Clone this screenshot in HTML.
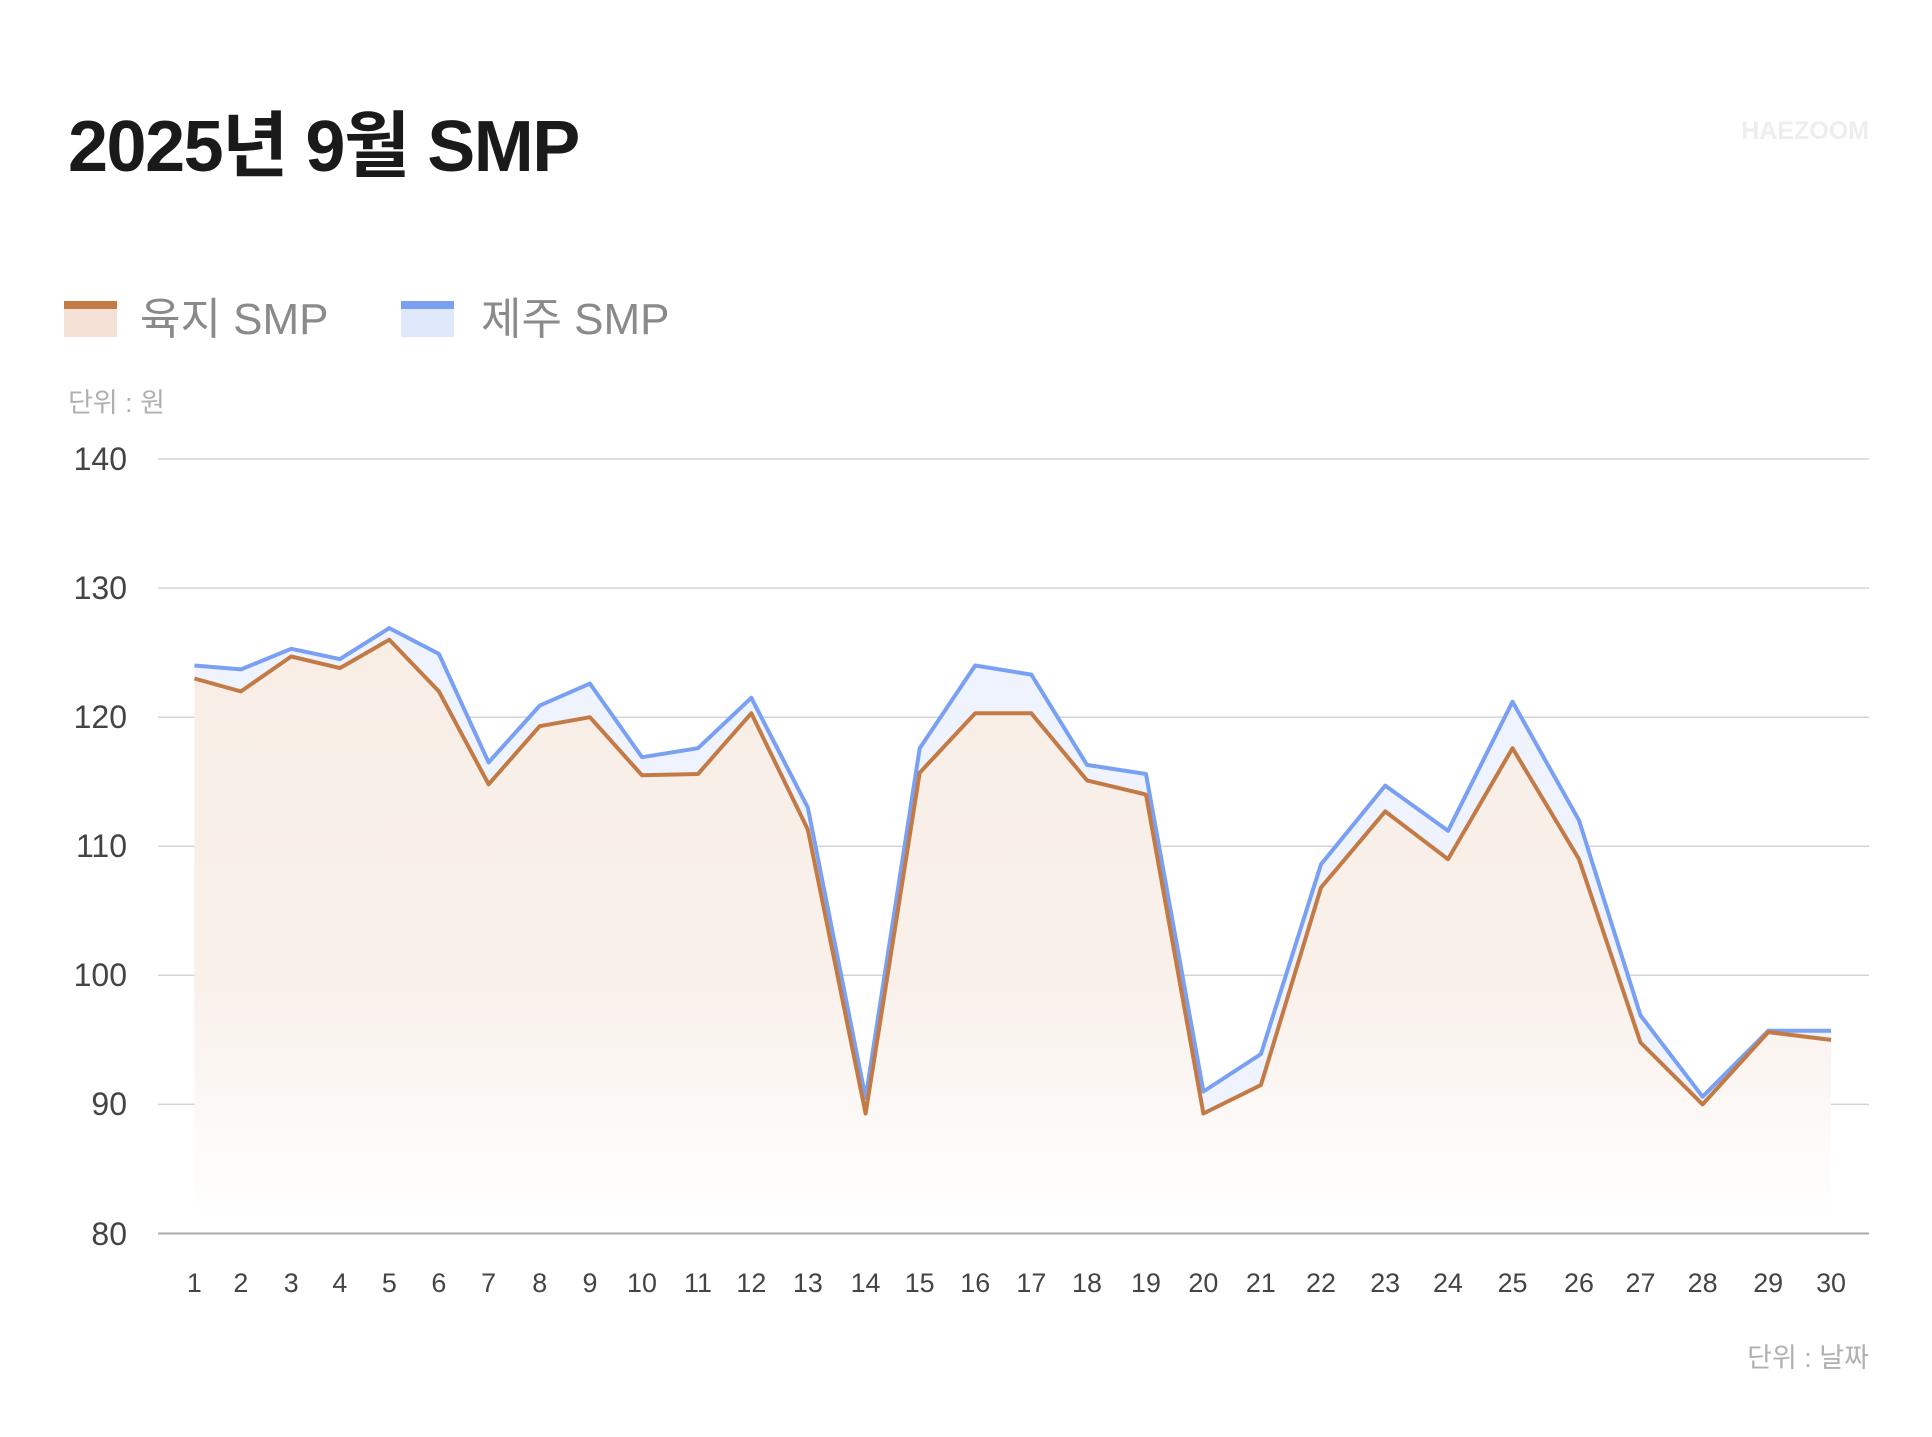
<!DOCTYPE html>
<html><head><meta charset="utf-8"><style>
html,body{margin:0;padding:0;background:#fff;}
body{width:1932px;height:1437px;overflow:hidden;position:relative;font-family:"Liberation Sans","Noto Sans CJK KR",sans-serif;}
svg{position:absolute;left:0;top:0;}
</style></head><body>
<svg id="c" width="1932" height="1437" viewBox="0 0 1932 1437" font-family="Liberation Sans, Noto Sans CJK KR, sans-serif">
<defs>
<linearGradient id="ogr" gradientUnits="userSpaceOnUse" x1="0" y1="620" x2="0" y2="1220">
<stop offset="0" stop-color="#f8eee6"/><stop offset="0.6" stop-color="#f9f0ea"/><stop offset="1" stop-color="#ffffff"/>
</linearGradient>
</defs>
<text x="68" y="171" font-size="72" font-weight="bold" fill="#1a1a1a" letter-spacing="-1.5">2025년 9월 SMP</text>
<text x="1869" y="139" font-size="25" font-weight="bold" fill="#eeeeee" text-anchor="end">HAEZOOM</text>
<rect x="64" y="301" width="53" height="36" fill="#f3e2d5"/><rect x="64" y="301" width="53" height="8" fill="#c47a45"/>
<text x="140" y="334" font-size="44" fill="#8a8a8a">육지 SMP</text>
<rect x="401" y="301" width="53" height="36" fill="#e0e9fb"/><rect x="401" y="301" width="53" height="8" fill="#7aa0f4"/>
<text x="481" y="334" font-size="44" fill="#8a8a8a">제주 SMP</text>
<text x="68" y="412" font-size="27" fill="#b0b0b0">단위 : 원</text>
<text x="1869" y="1367" font-size="27" fill="#b0b0b0" text-anchor="end">단위 : 날짜</text>
<g font-size="32" fill="#444" text-anchor="end">
<text x="127" y="470">140</text><text x="127" y="599">130</text><text x="127" y="728">120</text>
<text x="127" y="857">110</text><text x="127" y="986">100</text><text x="127" y="1115">90</text><text x="127" y="1245">80</text>
</g>
<g stroke="#d4d4d4" stroke-width="1.5">
<line x1="158" x2="1869" y1="459" y2="459"/><line x1="158" x2="1869" y1="588.1" y2="588.1"/>
<line x1="158" x2="1869" y1="717.2" y2="717.2"/><line x1="158" x2="1869" y1="846.3" y2="846.3"/>
<line x1="158" x2="1869" y1="975.3" y2="975.3"/><line x1="158" x2="1869" y1="1104.4" y2="1104.4"/>
</g>
<g id="fills"></g>
<line x1="158" x2="1869" y1="1233.5" y2="1233.5" stroke="#aaa" stroke-width="2"/>
<g font-size="27" fill="#444" text-anchor="middle" transform="matrix(0.99504 0 0 1 0.964 0)">
<text x="194.4" y="1292">1</text><text x="241.1" y="1292">2</text><text x="291.7" y="1292">3</text><text x="340.6" y="1292">4</text><text x="390.3" y="1292">5</text><text x="440.1" y="1292">6</text><text x="490.1" y="1292">7</text><text x="541.4" y="1292">8</text><text x="591.9" y="1292">9</text><text x="644.2" y="1292">10</text><text x="700.5" y="1292">11</text><text x="754.1" y="1292">12</text><text x="810.9" y="1292">13</text><text x="868.9" y="1292">14</text><text x="923.3" y="1292">15</text><text x="979.1" y="1292">16</text><text x="1035.5" y="1292">17</text><text x="1091.4" y="1292">18</text><text x="1150.7" y="1292">19</text><text x="1208.4" y="1292">20</text><text x="1266.2" y="1292">21</text><text x="1326.6" y="1292">22</text><text x="1391.1" y="1292">23</text><text x="1454.2" y="1292">24</text><text x="1519.1" y="1292">25</text><text x="1585.9" y="1292">26</text><text x="1647.7" y="1292">27</text><text x="1710.1" y="1292">28</text><text x="1776.0" y="1292">29</text><text x="1839.2" y="1292">30</text>
</g>
</svg>
<script>
var o=[123,122,124.7,123.8,126,122,114.8,119.3,120,115.5,115.6,120.3,111.3,89.3,115.7,120.3,120.3,115.1,114,89.3,91.5,106.8,112.7,109,117.6,109,94.8,90,95.6,95];
var b=[124,123.7,125.3,124.5,126.9,124.9,116.5,120.9,122.6,116.9,117.6,121.5,113,90.5,117.6,124,123.3,116.3,115.6,91,93.9,108.6,114.7,111.2,121.2,112,96.9,90.6,95.7,95.7];
var xs=[194.4,241.1,291.7,340.6,390.3,440.1,490.1,541.4,591.9,644.2,700.5,754.1,810.9,868.9,923.3,979.1,1035.5,1091.4,1150.7,1208.4,1266.2,1326.6,1391.1,1454.2,1519.1,1585.9,1647.7,1710.1,1776.0,1839.2].map(function(x){return x*0.99504+0.964;});
function Y(v){return 1233.5-(v-80)*12.908;}
function pts(a){return a.map(function(v,i){return xs[i].toFixed(1)+','+Y(v).toFixed(1);});}
var po=pts(o),pb=pts(b);
var g=document.getElementById('fills'),ns='http://www.w3.org/2000/svg';
function el(t,at){var e=document.createElementNS(ns,t);for(var k in at)e.setAttribute(k,at[k]);g.appendChild(e);}
var x0=xs[0].toFixed(1),x1=xs[29].toFixed(1);
el('path',{d:'M'+po.join('L')+'L'+x1+',1220L'+x0+',1220Z',fill:'url(#ogr)'});
el('path',{d:'M'+pb.join('L')+'L'+po.slice().reverse().join('L')+'Z',fill:'#eef3fd'});
el('polyline',{points:pb.join(' '),fill:'none',stroke:'#7aa0f4','stroke-width':4,'stroke-linejoin':'round'});
el('polyline',{points:po.join(' '),fill:'none',stroke:'#c47a45','stroke-width':4,'stroke-linejoin':'round'});
</script>
</body></html>
